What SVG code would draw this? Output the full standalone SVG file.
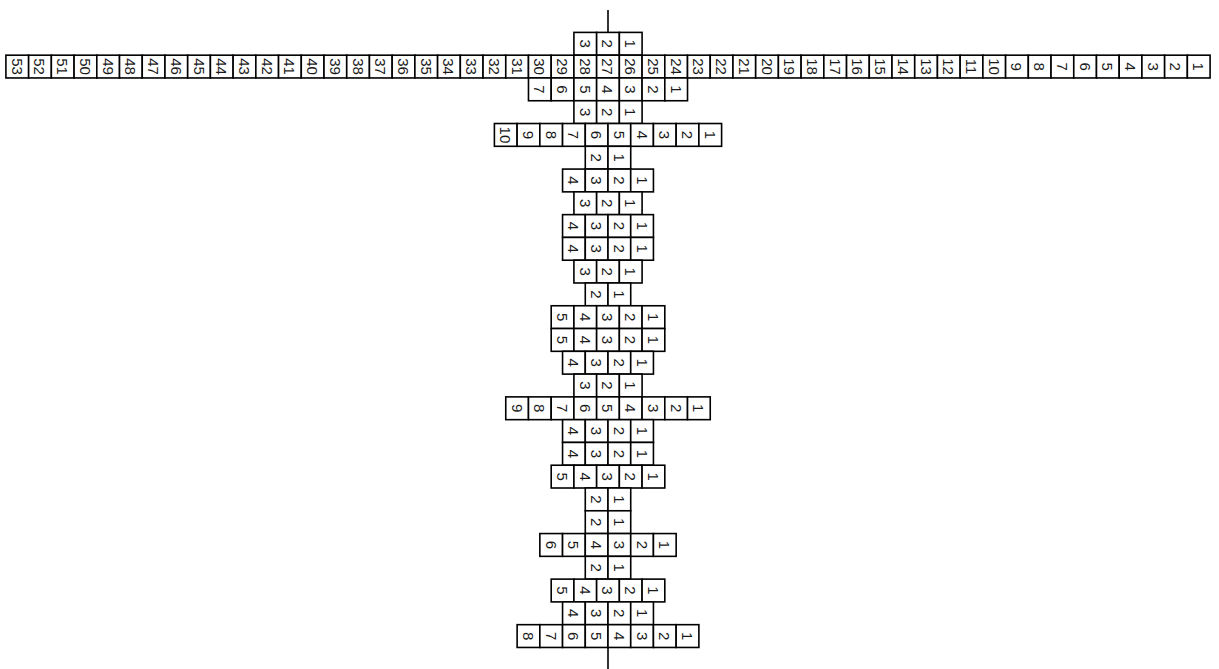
<svg xmlns="http://www.w3.org/2000/svg" xmlns:xlink="http://www.w3.org/1999/xlink" width="1219" height="669" viewBox="0 0 1219 669">
<style>
.row{fill:#fff;stroke:#000;stroke-width:1.6}
.row text{fill:#1a1a1a;stroke:none;font-family:"Liberation Sans",Arial,sans-serif;font-size:15px;text-anchor:middle;dominant-baseline:central}
.axis{stroke:#000;stroke-width:1.6;fill:none}
</style>
<defs><rect id="b" width="22.72" height="22.78"/></defs>
<g id="connectors"><line class="axis" x1="608" y1="10" x2="608" y2="669"/></g>

<g id="row1" class="row" transform="translate(573.92,32.4)">
<use href="#b" x="0"/><use href="#b" x="22.72"/><use href="#b" x="45.44"/>
<g transform="rotate(90)"><text x="11.39" y="-11.36">3</text><text x="11.39" y="-34.08">2</text><text x="11.39" y="-56.8">1</text></g>
</g>

<g id="row2" class="row" transform="translate(5.92,55.18)">
<use href="#b" x="0"/><use href="#b" x="22.72"/><use href="#b" x="45.44"/><use href="#b" x="68.16"/><use href="#b" x="90.88"/><use href="#b" x="113.6"/><use href="#b" x="136.32"/><use href="#b" x="159.04"/><use href="#b" x="181.76"/><use href="#b" x="204.48"/><use href="#b" x="227.2"/><use href="#b" x="249.92"/><use href="#b" x="272.64"/><use href="#b" x="295.36"/><use href="#b" x="318.08"/><use href="#b" x="340.8"/><use href="#b" x="363.52"/><use href="#b" x="386.24"/><use href="#b" x="408.96"/><use href="#b" x="431.68"/><use href="#b" x="454.4"/><use href="#b" x="477.12"/><use href="#b" x="499.84"/><use href="#b" x="522.56"/><use href="#b" x="545.28"/><use href="#b" x="568"/><use href="#b" x="590.72"/><use href="#b" x="613.44"/><use href="#b" x="636.16"/><use href="#b" x="658.88"/><use href="#b" x="681.6"/><use href="#b" x="704.32"/><use href="#b" x="727.04"/><use href="#b" x="749.76"/><use href="#b" x="772.48"/><use href="#b" x="795.2"/><use href="#b" x="817.92"/><use href="#b" x="840.64"/><use href="#b" x="863.36"/><use href="#b" x="886.08"/><use href="#b" x="908.8"/><use href="#b" x="931.52"/><use href="#b" x="954.24"/><use href="#b" x="976.96"/><use href="#b" x="999.68"/><use href="#b" x="1022.4"/><use href="#b" x="1045.12"/><use href="#b" x="1067.84"/><use href="#b" x="1090.56"/><use href="#b" x="1113.28"/><use href="#b" x="1136"/><use href="#b" x="1158.72"/><use href="#b" x="1181.44"/>
<g transform="rotate(90)">
<text x="11.39" y="-11.36">53</text><text x="11.39" y="-34.08">52</text><text x="11.39" y="-56.8">51</text><text x="11.39" y="-79.52">50</text><text x="11.39" y="-102.24">49</text><text x="11.39" y="-124.96">48</text><text x="11.39" y="-147.68">47</text><text x="11.39" y="-170.4">46</text><text x="11.39" y="-193.12">45</text><text x="11.39" y="-215.84">44</text><text x="11.39" y="-238.56">43</text><text x="11.39" y="-261.28">42</text><text x="11.39" y="-284">41</text><text x="11.39" y="-306.72">40</text><text x="11.39" y="-329.44">39</text><text x="11.39" y="-352.16">38</text><text x="11.39" y="-374.88">37</text><text x="11.39" y="-397.6">36</text><text x="11.39" y="-420.32">35</text><text x="11.39" y="-443.04">34</text><text x="11.39" y="-465.76">33</text><text x="11.39" y="-488.48">32</text><text x="11.39" y="-511.2">31</text><text x="11.39" y="-533.92">30</text><text x="11.39" y="-556.64">29</text><text x="11.39" y="-579.36">28</text><text x="11.39" y="-602.08">27</text><text x="11.39" y="-624.8">26</text><text x="11.39" y="-647.52">25</text><text x="11.39" y="-670.24">24</text><text x="11.39" y="-692.96">23</text><text x="11.39" y="-715.68">22</text><text x="11.39" y="-738.4">21</text><text x="11.39" y="-761.12">20</text><text x="11.39" y="-783.84">19</text><text x="11.39" y="-806.56">18</text><text x="11.39" y="-829.28">17</text><text x="11.39" y="-852">16</text><text x="11.39" y="-874.72">15</text><text x="11.39" y="-897.44">14</text><text x="11.39" y="-920.16">13</text><text x="11.39" y="-942.88">12</text><text x="11.39" y="-965.6">11</text><text x="11.39" y="-988.32">10</text><text x="11.39" y="-1011.04">9</text><text x="11.39" y="-1033.76">8</text><text x="11.39" y="-1056.48">7</text><text x="11.39" y="-1079.2">6</text><text x="11.39" y="-1101.92">5</text><text x="11.39" y="-1124.64">4</text><text x="11.39" y="-1147.36">3</text><text x="11.39" y="-1170.08">2</text><text x="11.39" y="-1192.8">1</text>
</g>
</g>

<g id="row3" class="row" transform="translate(528.48,77.96)">
<use href="#b" x="0"/><use href="#b" x="22.72"/><use href="#b" x="45.44"/><use href="#b" x="68.16"/><use href="#b" x="90.88"/><use href="#b" x="113.6"/><use href="#b" x="136.32"/>
<g transform="rotate(90)"><text x="11.39" y="-11.36">7</text><text x="11.39" y="-34.08">6</text><text x="11.39" y="-56.8">5</text><text x="11.39" y="-79.52">4</text><text x="11.39" y="-102.24">3</text><text x="11.39" y="-124.96">2</text><text x="11.39" y="-147.68">1</text></g>
</g>

<g id="row4" class="row" transform="translate(573.92,100.74)">
<use href="#b" x="0"/><use href="#b" x="22.72"/><use href="#b" x="45.44"/>
<g transform="rotate(90)"><text x="11.39" y="-11.36">3</text><text x="11.39" y="-34.08">2</text><text x="11.39" y="-56.8">1</text></g>
</g>

<g id="row5" class="row" transform="translate(494.4,123.52)">
<use href="#b" x="0"/><use href="#b" x="22.72"/><use href="#b" x="45.44"/><use href="#b" x="68.16"/><use href="#b" x="90.88"/><use href="#b" x="113.6"/><use href="#b" x="136.32"/><use href="#b" x="159.04"/><use href="#b" x="181.76"/><use href="#b" x="204.48"/>
<g transform="rotate(90)"><text x="11.39" y="-11.36">10</text><text x="11.39" y="-34.08">9</text><text x="11.39" y="-56.8">8</text><text x="11.39" y="-79.52">7</text><text x="11.39" y="-102.24">6</text><text x="11.39" y="-124.96">5</text><text x="11.39" y="-147.68">4</text><text x="11.39" y="-170.4">3</text><text x="11.39" y="-193.12">2</text><text x="11.39" y="-215.84">1</text></g>
</g>

<g id="row6" class="row" transform="translate(585.28,146.3)">
<use href="#b" x="0"/><use href="#b" x="22.72"/>
<g transform="rotate(90)"><text x="11.39" y="-11.36">2</text><text x="11.39" y="-34.08">1</text></g>
</g>

<g id="row7" class="row" transform="translate(562.56,169.08)">
<use href="#b" x="0"/><use href="#b" x="22.72"/><use href="#b" x="45.44"/><use href="#b" x="68.16"/>
<g transform="rotate(90)"><text x="11.39" y="-11.36">4</text><text x="11.39" y="-34.08">3</text><text x="11.39" y="-56.8">2</text><text x="11.39" y="-79.52">1</text></g>
</g>

<g id="row8" class="row" transform="translate(573.92,191.86)">
<use href="#b" x="0"/><use href="#b" x="22.72"/><use href="#b" x="45.44"/>
<g transform="rotate(90)"><text x="11.39" y="-11.36">3</text><text x="11.39" y="-34.08">2</text><text x="11.39" y="-56.8">1</text></g>
</g>

<g id="row9" class="row" transform="translate(562.56,214.64)">
<use href="#b" x="0"/><use href="#b" x="22.72"/><use href="#b" x="45.44"/><use href="#b" x="68.16"/>
<g transform="rotate(90)"><text x="11.39" y="-11.36">4</text><text x="11.39" y="-34.08">3</text><text x="11.39" y="-56.8">2</text><text x="11.39" y="-79.52">1</text></g>
</g>

<g id="row10" class="row" transform="translate(562.56,237.42)">
<use href="#b" x="0"/><use href="#b" x="22.72"/><use href="#b" x="45.44"/><use href="#b" x="68.16"/>
<g transform="rotate(90)"><text x="11.39" y="-11.36">4</text><text x="11.39" y="-34.08">3</text><text x="11.39" y="-56.8">2</text><text x="11.39" y="-79.52">1</text></g>
</g>

<g id="row11" class="row" transform="translate(573.92,260.2)">
<use href="#b" x="0"/><use href="#b" x="22.72"/><use href="#b" x="45.44"/>
<g transform="rotate(90)"><text x="11.39" y="-11.36">3</text><text x="11.39" y="-34.08">2</text><text x="11.39" y="-56.8">1</text></g>
</g>

<g id="row12" class="row" transform="translate(585.28,282.98)">
<use href="#b" x="0"/><use href="#b" x="22.72"/>
<g transform="rotate(90)"><text x="11.39" y="-11.36">2</text><text x="11.39" y="-34.08">1</text></g>
</g>

<g id="row13" class="row" transform="translate(551.2,305.76)">
<use href="#b" x="0"/><use href="#b" x="22.72"/><use href="#b" x="45.44"/><use href="#b" x="68.16"/><use href="#b" x="90.88"/>
<g transform="rotate(90)"><text x="11.39" y="-11.36">5</text><text x="11.39" y="-34.08">4</text><text x="11.39" y="-56.8">3</text><text x="11.39" y="-79.52">2</text><text x="11.39" y="-102.24">1</text></g>
</g>

<g id="row14" class="row" transform="translate(551.2,328.54)">
<use href="#b" x="0"/><use href="#b" x="22.72"/><use href="#b" x="45.44"/><use href="#b" x="68.16"/><use href="#b" x="90.88"/>
<g transform="rotate(90)"><text x="11.39" y="-11.36">5</text><text x="11.39" y="-34.08">4</text><text x="11.39" y="-56.8">3</text><text x="11.39" y="-79.52">2</text><text x="11.39" y="-102.24">1</text></g>
</g>

<g id="row15" class="row" transform="translate(562.56,351.32)">
<use href="#b" x="0"/><use href="#b" x="22.72"/><use href="#b" x="45.44"/><use href="#b" x="68.16"/>
<g transform="rotate(90)"><text x="11.39" y="-11.36">4</text><text x="11.39" y="-34.08">3</text><text x="11.39" y="-56.8">2</text><text x="11.39" y="-79.52">1</text></g>
</g>

<g id="row16" class="row" transform="translate(573.92,374.1)">
<use href="#b" x="0"/><use href="#b" x="22.72"/><use href="#b" x="45.44"/>
<g transform="rotate(90)"><text x="11.39" y="-11.36">3</text><text x="11.39" y="-34.08">2</text><text x="11.39" y="-56.8">1</text></g>
</g>

<g id="row17" class="row" transform="translate(505.76,396.88)">
<use href="#b" x="0"/><use href="#b" x="22.72"/><use href="#b" x="45.44"/><use href="#b" x="68.16"/><use href="#b" x="90.88"/><use href="#b" x="113.6"/><use href="#b" x="136.32"/><use href="#b" x="159.04"/><use href="#b" x="181.76"/>
<g transform="rotate(90)"><text x="11.39" y="-11.36">9</text><text x="11.39" y="-34.08">8</text><text x="11.39" y="-56.8">7</text><text x="11.39" y="-79.52">6</text><text x="11.39" y="-102.24">5</text><text x="11.39" y="-124.96">4</text><text x="11.39" y="-147.68">3</text><text x="11.39" y="-170.4">2</text><text x="11.39" y="-193.12">1</text></g>
</g>

<g id="row18" class="row" transform="translate(562.56,419.66)">
<use href="#b" x="0"/><use href="#b" x="22.72"/><use href="#b" x="45.44"/><use href="#b" x="68.16"/>
<g transform="rotate(90)"><text x="11.39" y="-11.36">4</text><text x="11.39" y="-34.08">3</text><text x="11.39" y="-56.8">2</text><text x="11.39" y="-79.52">1</text></g>
</g>

<g id="row19" class="row" transform="translate(562.56,442.44)">
<use href="#b" x="0"/><use href="#b" x="22.72"/><use href="#b" x="45.44"/><use href="#b" x="68.16"/>
<g transform="rotate(90)"><text x="11.39" y="-11.36">4</text><text x="11.39" y="-34.08">3</text><text x="11.39" y="-56.8">2</text><text x="11.39" y="-79.52">1</text></g>
</g>

<g id="row20" class="row" transform="translate(551.2,465.22)">
<use href="#b" x="0"/><use href="#b" x="22.72"/><use href="#b" x="45.44"/><use href="#b" x="68.16"/><use href="#b" x="90.88"/>
<g transform="rotate(90)"><text x="11.39" y="-11.36">5</text><text x="11.39" y="-34.08">4</text><text x="11.39" y="-56.8">3</text><text x="11.39" y="-79.52">2</text><text x="11.39" y="-102.24">1</text></g>
</g>

<g id="row21" class="row" transform="translate(585.28,488)">
<use href="#b" x="0"/><use href="#b" x="22.72"/>
<g transform="rotate(90)"><text x="11.39" y="-11.36">2</text><text x="11.39" y="-34.08">1</text></g>
</g>

<g id="row22" class="row" transform="translate(585.28,510.78)">
<use href="#b" x="0"/><use href="#b" x="22.72"/>
<g transform="rotate(90)"><text x="11.39" y="-11.36">2</text><text x="11.39" y="-34.08">1</text></g>
</g>

<g id="row23" class="row" transform="translate(539.84,533.56)">
<use href="#b" x="0"/><use href="#b" x="22.72"/><use href="#b" x="45.44"/><use href="#b" x="68.16"/><use href="#b" x="90.88"/><use href="#b" x="113.6"/>
<g transform="rotate(90)"><text x="11.39" y="-11.36">6</text><text x="11.39" y="-34.08">5</text><text x="11.39" y="-56.8">4</text><text x="11.39" y="-79.52">3</text><text x="11.39" y="-102.24">2</text><text x="11.39" y="-124.96">1</text></g>
</g>

<g id="row24" class="row" transform="translate(585.28,556.34)">
<use href="#b" x="0"/><use href="#b" x="22.72"/>
<g transform="rotate(90)"><text x="11.39" y="-11.36">2</text><text x="11.39" y="-34.08">1</text></g>
</g>

<g id="row25" class="row" transform="translate(551.2,579.12)">
<use href="#b" x="0"/><use href="#b" x="22.72"/><use href="#b" x="45.44"/><use href="#b" x="68.16"/><use href="#b" x="90.88"/>
<g transform="rotate(90)"><text x="11.39" y="-11.36">5</text><text x="11.39" y="-34.08">4</text><text x="11.39" y="-56.8">3</text><text x="11.39" y="-79.52">2</text><text x="11.39" y="-102.24">1</text></g>
</g>

<g id="row26" class="row" transform="translate(562.56,601.9)">
<use href="#b" x="0"/><use href="#b" x="22.72"/><use href="#b" x="45.44"/><use href="#b" x="68.16"/>
<g transform="rotate(90)"><text x="11.39" y="-11.36">4</text><text x="11.39" y="-34.08">3</text><text x="11.39" y="-56.8">2</text><text x="11.39" y="-79.52">1</text></g>
</g>

<g id="row27" class="row" transform="translate(517.12,624.68)">
<use href="#b" x="0"/><use href="#b" x="22.72"/><use href="#b" x="45.44"/><use href="#b" x="68.16"/><use href="#b" x="90.88"/><use href="#b" x="113.6"/><use href="#b" x="136.32"/><use href="#b" x="159.04"/>
<g transform="rotate(90)"><text x="11.39" y="-11.36">8</text><text x="11.39" y="-34.08">7</text><text x="11.39" y="-56.8">6</text><text x="11.39" y="-79.52">5</text><text x="11.39" y="-102.24">4</text><text x="11.39" y="-124.96">3</text><text x="11.39" y="-147.68">2</text><text x="11.39" y="-170.4">1</text></g>
</g>
</svg>
